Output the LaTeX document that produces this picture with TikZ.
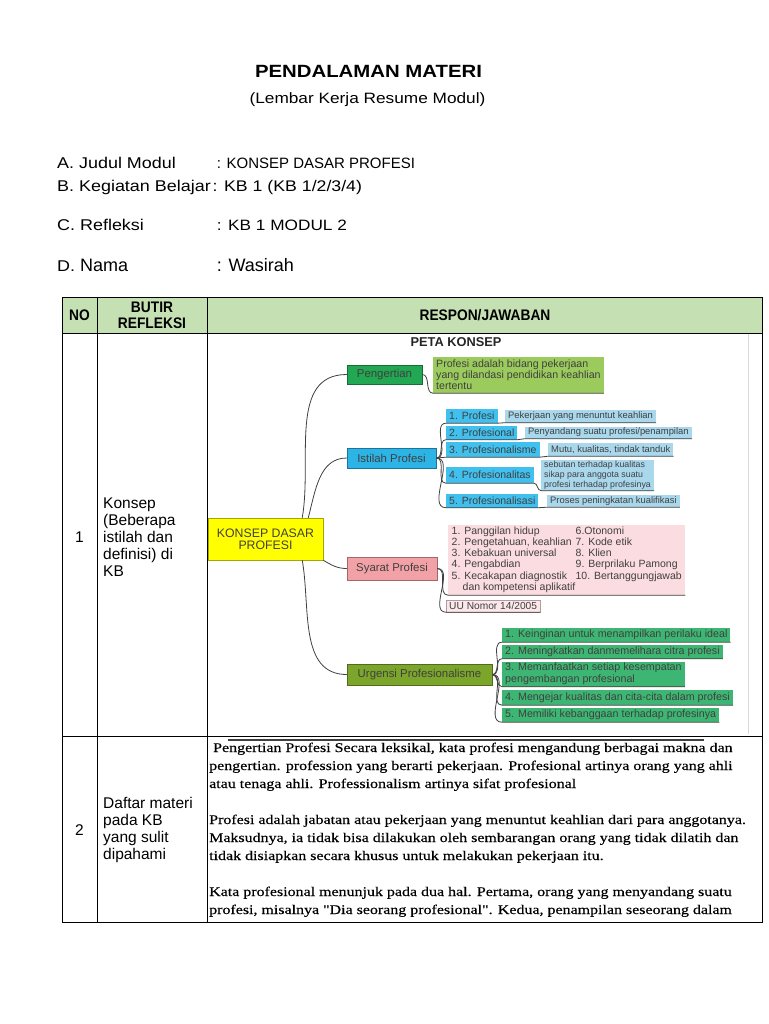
\documentclass[tikz,border=0pt]{standalone}
\usepackage{fontspec}
\setmainfont{Liberation Sans}[FakeStretch=1.15]
\newfontfamily\plainsans{Liberation Sans}
\newfontfamily\hdrfont{Liberation Sans}[FakeStretch=0.9]
\newfontfamily\bodyserif{Liberation Serif}[FakeStretch=1.2,FakeBold=0.4]
\usetikzlibrary{calc}
\definecolor{hdrgreen}{HTML}{C5E0B3}
\definecolor{kdpyellow}{HTML}{FFFF00}
\definecolor{pengreen}{HTML}{22A752}
\definecolor{defgreen}{HTML}{9BCB5C}
\definecolor{istblue}{HTML}{2DB4E6}
\definecolor{itemblue}{HTML}{40C0EE}
\definecolor{descblue}{HTML}{A9D7EC}
\definecolor{syapink}{HTML}{F2A1A6}
\definecolor{listpink}{HTML}{FBDCE0}
\definecolor{uupink}{HTML}{FCE8EA}
\definecolor{urgolive}{HTML}{7CA52B}
\definecolor{urggreen}{HTML}{3EB673}
\newcommand{\fsz}[2]{\fontsize{#1}{#2}\selectfont}
\newcommand{\lcol}[1]{\makebox[124pt][l]{#1}}

\begin{document}
\begin{tikzpicture}[x=1pt,y=-1pt,inner sep=0pt,
  grid/.style={line width=1pt},
  hdr/.style={font=\hdrfont\bfseries\fsz{15.3}{16},align=center},
  lbl/.style={anchor=base west,font=\fsz{15.6}{18}},
  cell/.style={anchor=west,align=left,font=\plainsans\fsz{15.5}{17}},
  serif/.style={anchor=base west,font=\bodyserif\fsz{13.3}{18}},
  topic/.style={draw=#1!65!black,fill=#1,line width=0.5pt,text=black!75,font=\plainsans\fsz{11.4}{12}},
  sub/.style={anchor=west,inner xsep=3pt,fill=#1,text=black!75,align=left},
  link/.style={black!75,line width=0.8pt}]
\useasboundingbox (0,0) rectangle (768,1024);
\fill[white] (0,0) rectangle (768,1024);

\node[anchor=base,font=\bfseries\fsz{17.7}{20}] (title) at (368.5,77.3) {PENDALAMAN MATERI};
\node[anchor=base,font=\fsz{15}{18}] (subtitle) at (367.5,103.3) {(Lembar Kerja Resume Modul)};

\node[lbl] (la) at (57,168.3) {A. Judul Modul};
\node[lbl,font=\plainsans\fsz{15}{18}] (va) at (216.7,168.3) {: KONSEP DASAR PROFESI};
\node[lbl] (lb) at (57,191.7) {B. Kegiatan Belajar};
\node[lbl,font=\fsz{15.4}{18}] (vb) at (212.5,191.7) {: KB 1 (KB 1/2/3/4)};
\node[lbl] (lc) at (57,230) {C. Refleksi};
\node[lbl,font=\fsz{15}{18}] (vc) at (216.7,230) {: KB 1 MODUL 2};
\node[lbl] (ld) at (57,271) {D. {\plainsans\fsz{18}{20}Nama}};
\node[lbl,font=\plainsans\fsz{18}{20}] (vd) at (216.7,271) {: Wasirah};

\fill[hdrgreen] (62,297) rectangle (762,333);
\draw[grid] (62,297) rectangle (762,922);
\draw[grid] (62,333) -- (762,333);
\draw[grid] (62,736) -- (762,736);
\draw[grid] (97,297) -- (97,922);
\draw[grid] (207,297) -- (207,922);

\node[hdr] (hno) at (79.5,315) {NO};
\node[hdr] (hbutir) at (152,315) {BUTIR\\REFLEKSI};
\node[hdr] (hrespon) at (485,315) {RESPON/JAWABAN};

\node[font=\plainsans\fsz{15.5}{17}] (no1) at (79.5,537) {1};
\node[cell] (butir1) at (103,537) {Konsep\\(Beberapa\\istilah dan\\definisi) di\\KB};
\node[font=\plainsans\fsz{15.5}{17}] (no2) at (79.5,830) {2};
\node[cell] (butir2) at (103,830) {Daftar materi\\pada KB\\yang sulit\\dipahami};

\draw[black!15] (748,334) -- (748,734);
\draw[black!75,line width=1.3pt] (228,740) -- (704,740);

\node[font=\plainsans\bfseries\fsz{12.8}{14},text=black!85] (peta) at (456,342) {PETA KONSEP};

\node[topic=kdpyellow,minimum width=115,minimum height=42,align=center,font=\plainsans\fsz{12.3}{12}] (kdp) at (265.5,539) {KONSEP DASAR\\PROFESI};
\node[topic=pengreen,minimum width=75,minimum height=19] (pe) at (384.5,374.5) {Pengertian};
\node[topic=istblue,minimum width=89,minimum height=20] (ist) at (391.5,458) {Istilah Profesi};
\node[topic=syapink,minimum width=90,minimum height=23] (sy) at (392,568.5) {Syarat Profesi};
\node[topic=urgolive,minimum width=145,minimum height=21] (urg) at (419.5,674.5) {Urgensi Profesionalisme};

\node[sub=defgreen,minimum height=36,font=\plainsans\fsz{10.6}{11}] (def) at (433,375) {Profesi adalah bidang pekerjaan\\yang dilandasi pendidikan keahlian\\tertentu};

\node[sub=itemblue,minimum height=14,font=\plainsans\fsz{10.5}{11}] (i1) at (446,416) {1. Profesi};
\node[sub=itemblue,minimum height=14,font=\plainsans\fsz{10.5}{11}] (i2) at (446,432.5) {2. Profesional};
\node[sub=itemblue,minimum height=15,font=\plainsans\fsz{10.5}{11}] (i3) at (446,449.5) {3. Profesionalisme};
\node[sub=itemblue,minimum height=16,font=\plainsans\fsz{10.5}{11}] (i4) at (446,475) {4. Profesionalitas};
\node[sub=itemblue,minimum height=14,font=\plainsans\fsz{10.5}{11}] (i5) at (446,500.5) {5. Profesionalisasi};

\node[sub=descblue,minimum height=13,font=\plainsans\fsz{9.4}{10}] (d1) at (505,416) {Pekerjaan yang menuntut keahlian};
\node[sub=descblue,minimum height=12,font=\plainsans\fsz{9.4}{10}] (d2) at (525,432.5) {Penyandang suatu profesi/penampilan};
\node[sub=descblue,minimum height=13,font=\plainsans\fsz{9.4}{10}] (d3) at (548,449.5) {Mutu, kualitas, tindak tanduk};
\node[sub=descblue,minimum height=31,font=\plainsans\fsz{8.8}{10}] (d4) at (541,475) {sebutan terhadap kualitas\\sikap para anggota suatu\\profesi terhadap profesinya};
\node[sub=descblue,minimum height=12,font=\plainsans\fsz{9.4}{10}] (d5) at (547,501) {Proses peningkatan kualifikasi};

\node[sub=listpink,minimum width=237,minimum height=70,font=\plainsans\fsz{10.5}{11.3}] (list) at (448,560) {\begin{tabular}{@{}l@{}l@{}}
\lcol{1. Panggilan hidup} & 6.Otonomi\\
\lcol{2. Pengetahuan, keahlian} & 7. Kode etik\\
\lcol{3. Kebakuan universal} & 8. Klien\\
\lcol{4. Pengabdian} & 9. Berprilaku Pamong\\
\lcol{5. Kecakapan diagnostik} & 10. Bertanggungjawab\\
\lcol{\hspace*{11pt}dan kompetensi aplikatif} &
\end{tabular}};
\node[sub=uupink,draw=listpink!70!black,line width=0.4pt,minimum height=12,font=\plainsans\fsz{10.2}{11}] (uu) at (446,606) {UU Nomor 14/2005};

\node[sub=urggreen,minimum height=14,font=\plainsans\fsz{10.7}{11}] (u1) at (502,635) {1. Keinginan untuk menampilkan perilaku ideal};
\node[sub=urggreen,minimum height=14,font=\plainsans\fsz{10.7}{11}] (u2) at (502,651.5) {2. Meningkatkan danmemelihara citra profesi};
\node[sub=urggreen,minimum height=25,font=\plainsans\fsz{10.7}{12}] (u3) at (502,674) {3. Memanfaatkan setiap kesempatan\\pengembangan profesional};
\node[sub=urggreen,minimum height=15,font=\plainsans\fsz{10.7}{11}] (u4) at (502,697.5) {4. Mengejar kualitas dan cita-cita dalam profesi};
\node[sub=urggreen,minimum height=14,font=\plainsans\fsz{10.7}{11}] (u5) at (502,715) {5. Memiliki kebanggaan terhadap profesinya};

\draw[link] ($(kdp.north east)+(-21,0)$) to[out=80,in=180] (pe.west);
\draw[link] ($(kdp.north east)+(-15,0)$) to[out=75,in=180] (ist.west);
\draw[link] (kdp.south east) to[out=-30,in=180] (sy.west);
\draw[link] ($(kdp.south east)+(-21,0)$) to[out=-80,in=180] (urg.west);

\draw[link] (pe.east) to[out=0,in=180] (def.south west) -- (def.south east);
\foreach \k in {1,...,5}
  \draw[link] (ist.east) to[out=0,in=180] (i\k.south west) -- (i\k.south east) to[out=0,in=180] (d\k.south west) -- (d\k.south east);
\draw[link] (sy.east) to[out=0,in=180] (list.south west) -- (list.south east);
\draw[link] (sy.east) to[out=0,in=180] (uu.south west) -- (uu.south east);
\foreach \k in {1,...,5}
  \draw[link] (urg.east) to[out=0,in=180] (u\k.south west) -- (u\k.south east);

\foreach \yy/\txt in {752/{\ Pengertian Profesi Secara leksikal, kata profesi mengandung berbagai makna dan},
  770/{pengertian. profession yang berarti pekerjaan. Profesional artinya orang yang ahli},
  788/{atau tenaga ahli. Professionalism artinya sifat profesional},
  824/{Profesi adalah jabatan atau pekerjaan yang menuntut keahlian dari para anggotanya.},
  842/{Maksudnya, ia tidak bisa dilakukan oleh sembarangan orang yang tidak dilatih dan},
  860/{tidak disiapkan secara khusus untuk melakukan pekerjaan itu.},
  896/{Kata profesional menunjuk pada dua hal. Pertama, orang yang menyandang suatu},
  914/{profesi, misalnya "Dia seorang profesional". Kedua, penampilan seseorang dalam}}
  \node[serif] (resp\yy) at (209,\yy) {\txt};
\end{tikzpicture}
\end{document}
